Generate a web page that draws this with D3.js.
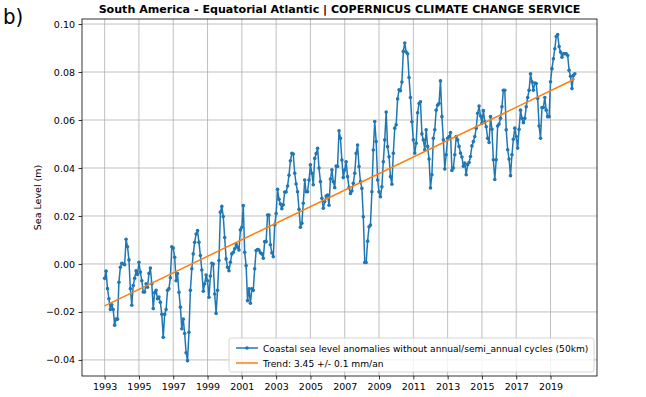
<!DOCTYPE html>
<html>
<head>
<meta charset="utf-8">
<script src="https://cdn.jsdelivr.net/npm/d3@7.9.0/dist/d3.min.js"></script>
<style>
  html, body { margin: 0; padding: 0; background: #fff; }
  svg { display: block; font-family: "DejaVu Sans", sans-serif; }
</style>
</head>
<body>
<svg id="chart" width="646" height="397"></svg>
<script>
// ---- data: monthly coastal sea level anomalies (m) ----
const startYear = 1993;
const sla1993to1999 = [
  -0.0060, -0.0030, -0.0103, -0.0145, -0.0190, -0.0170, -0.0190, -0.0255, -0.0230, -0.0230, -0.0076, -0.0014,
   0.0003,  0.0000, -0.0003,  0.0103,  0.0072,  0.0017, -0.0103, -0.0172, -0.0090, -0.0060, -0.0028, -0.0044,
   0.0007, -0.0034, -0.0070, -0.0117, -0.0117, -0.0083, -0.0097, -0.0040, -0.0017, -0.0083, -0.0186, -0.0120,
  -0.0110, -0.0145, -0.0138, -0.0160, -0.0210, -0.0306, -0.0210, -0.0190, -0.0110, -0.0103, -0.0058,  0.0072,
   0.0066,  0.0028, -0.0070, -0.0040, -0.0118, -0.0180, -0.0270, -0.0230, -0.0290, -0.0370, -0.0403, -0.0285,
  -0.0110, -0.0020,  0.0042,  0.0090,  0.0125,  0.0139,  0.0090,  0.0035, -0.0025, -0.0114, -0.0083, -0.0046,
  -0.0070, -0.0139, -0.0050,  0.0003,  0.0000, -0.0125, -0.0206, -0.0110,  0.0014,  0.0216,  0.0240,  0.0198
];
const sla2000to2006 = [
   0.0110,  0.0021, -0.0014, -0.0028,  0.0007,  0.0042,  0.0049,  0.0063,  0.0083,  0.0070,  0.0058,  0.0142,
   0.0153,  0.0243,  0.0049, -0.0007, -0.0153, -0.0104, -0.0164, -0.0104, -0.0110, -0.0020,  0.0056,  0.0060,
   0.0058,  0.0047,  0.0042,  0.0024,  0.0093,  0.0093,  0.0204,  0.0204,  0.0080,  0.0047,  0.0030,  0.0163,
   0.0210,  0.0311,  0.0270,  0.0250,  0.0230,  0.0247,  0.0300,  0.0300,  0.0325,  0.0370,  0.0430,  0.0461,
   0.0458,  0.0378,  0.0333,  0.0301,  0.0228,  0.0153,  0.0170,  0.0253,  0.0350,  0.0301,  0.0301,  0.0350,
   0.0413,  0.0378,  0.0330,  0.0440,  0.0460,  0.0482,  0.0400,  0.0343,  0.0274,  0.0232,  0.0260,  0.0283,
   0.0287,  0.0245,  0.0354,  0.0392,  0.0343,  0.0318,  0.0408,  0.0406,  0.0555,  0.0524,  0.0433,  0.0360
];
const sla2007to2013 = [
   0.0392,  0.0426,  0.0364,  0.0318,  0.0294,  0.0304,  0.0336,  0.0378,  0.0461,  0.0496,  0.0406,  0.0343,
   0.0315,  0.0197,  0.0006,  0.0006,  0.0095,  0.0155,  0.0162,  0.0301,  0.0475,  0.0594,  0.0510,  0.0350,
   0.0301,  0.0280,  0.0322,  0.0426,  0.0517,  0.0633,  0.0489,  0.0447,  0.0364,  0.0332,  0.0461,  0.0566,
   0.0580,  0.0688,  0.0726,  0.0722,  0.0758,  0.0886,  0.0921,  0.0883,  0.0876,  0.0777,  0.0694,  0.0593,
   0.0517,  0.0462,  0.0503,  0.0630,  0.0669,  0.0676,  0.0542,  0.0517,  0.0476,  0.0559,  0.0490,  0.0437,
   0.0317,  0.0372,  0.0524,  0.0559,  0.0641,  0.0662,  0.0669,  0.0763,  0.0614,  0.0517,  0.0396,  0.0455,
   0.0524,  0.0531,  0.0548,  0.0390,  0.0400,  0.0455,  0.0531,  0.0517,  0.0490,  0.0462,  0.0446,  0.0407
];
const sla2014to2020 = [
   0.0421,  0.0372,  0.0414,  0.0423,  0.0448,  0.0492,  0.0510,  0.0531,  0.0566,  0.0628,  0.0658,  0.0617,
   0.0586,  0.0639,  0.0593,  0.0572,  0.0524,  0.0506,  0.0614,  0.0561,  0.0434,  0.0352,  0.0434,  0.0575,
   0.0583,  0.0607,  0.0655,  0.0724,  0.0724,  0.0559,  0.0476,  0.0437,  0.0368,  0.0455,  0.0520,  0.0566,
   0.0531,  0.0483,  0.0561,  0.0641,  0.0607,  0.0589,  0.0607,  0.0655,  0.0694,  0.0724,  0.0793,  0.0759,
   0.0724,  0.0754,  0.0752,  0.0690,  0.0575,  0.0524,  0.0652,  0.0652,  0.0694,  0.0641,  0.0614,  0.0614,
   0.0759,  0.0814,  0.0855,  0.0897,  0.0948,  0.0956,  0.0906,  0.0883,  0.0862,  0.0876,  0.0876,  0.0876,
   0.0869,  0.0807,  0.0782,  0.0731,  0.0786,  0.0793
];

// trend line: value at start + rate (m per year)
const trendStart = -0.0175;
const trendRate = 0.00345;

const xTicks = [1993, 1995, 1997, 1999, 2001, 2003, 2005, 2007, 2009, 2011, 2013, 2015, 2017, 2019];
const yTicks = [-0.04, -0.02, 0.00, 0.02, 0.04, 0.06, 0.08, 0.10];

const titleText = 'South America - Equatorial Atlantic | COPERNICUS CLIMATE CHANGE SERVICE';
const panelLabel = 'b)';
const yLabel = 'Sea Level (m)';
const legendLabels = [
  'Coastal sea level anomalies without annual/semi_annual cycles (50km)',
  'Trend: 3.45 +/- 0.1 mm/an'
];

// ---- build series ----
const values = [...sla1993to1999, ...sla2000to2006, ...sla2007to2013, ...sla2014to2020];
const series = values.map((v, i) => ({ t: startYear + i / 12, v }));
const tEnd = series[series.length - 1].t;
const trend = [startYear, tEnd].map(t => ({ t, v: trendStart + trendRate * (t - startYear) }));

// ---- layout ----
const plot = { left: 82, right: 597, top: 19, bottom: 376 };
const blue = '#1f77b4', orange = '#ff7f0e', gridCol = '#b0b0b0';

const svg = d3.select('#chart');

const x = d3.scaleLinear().domain([1991.68, 2021.71]).range([plot.left, plot.right]);
const y = d3.scaleLinear().domain([-0.0467, 0.1021]).range([plot.bottom, plot.top]);

// grid
const grid = svg.append('g');
grid.selectAll('line.gx').data(xTicks).join('line')
  .attr('x1', d => x(d)).attr('x2', d => x(d))
  .attr('y1', plot.top).attr('y2', plot.bottom)
  .attr('stroke', gridCol).attr('stroke-width', 0.8);
grid.selectAll('line.gy').data(yTicks).join('line')
  .attr('x1', plot.left).attr('x2', plot.right)
  .attr('y1', d => y(d)).attr('y2', d => y(d))
  .attr('stroke', gridCol).attr('stroke-width', 0.8);

// axes
const fmtY = d => d3.format('.2f')(d).replace('-', '\u2212');
svg.append('g')
  .attr('transform', `translate(0,${plot.bottom})`)
  .call(d3.axisBottom(x).tickValues(xTicks).tickFormat(d3.format('d')).tickSize(3.5).tickPadding(3.5))
  .call(g => g.select('.domain').remove());
svg.append('g')
  .attr('transform', `translate(${plot.left},0)`)
  .call(d3.axisLeft(y).tickValues(yTicks).tickFormat(fmtY).tickSize(3.5).tickPadding(3.5))
  .call(g => g.select('.domain').remove());
svg.selectAll('.tick text').attr('font-size', 9.5).attr('font-family', 'DejaVu Sans').attr('fill', '#000');
svg.selectAll('.tick line').attr('stroke', '#000').attr('stroke-width', 0.8);

// series
const line = d3.line().x(d => x(d.t)).y(d => y(d.v));
svg.append('path').datum(series)
  .attr('d', line).attr('fill', 'none')
  .attr('stroke', blue).attr('stroke-width', 1.5).attr('stroke-linejoin', 'round');
svg.append('g').selectAll('circle').data(series).join('circle')
  .attr('cx', d => x(d.t)).attr('cy', d => y(d.v)).attr('r', 1.8)
  .attr('fill', blue);

svg.append('path').datum(trend)
  .attr('d', line).attr('fill', 'none')
  .attr('stroke', orange).attr('stroke-width', 1.5);

// frame
svg.append('rect')
  .attr('x', plot.left).attr('y', plot.top)
  .attr('width', plot.right - plot.left).attr('height', plot.bottom - plot.top)
  .attr('fill', 'none').attr('stroke', '#000').attr('stroke-width', 0.8);

// fit text to a target width
function fitWidth(sel, target) {
  const w = sel.node().getComputedTextLength();
  const fs = parseFloat(sel.attr('font-size'));
  sel.attr('font-size', fs * target / w);
}

// title
const title = svg.append('text')
  .attr('x', (plot.left + plot.right) / 2).attr('y', 13)
  .attr('text-anchor', 'middle').attr('font-weight', 'bold')
  .attr('font-size', 12).text(titleText);
fitWidth(title, 482);

svg.append('text')
  .attr('x', 3).attr('y', 24)
  .attr('font-family', '"DejaVu Sans Condensed", "DejaVu Sans", sans-serif')
  .attr('font-size', 22).text(panelLabel);

svg.append('text')
  .attr('transform', `translate(41,${(plot.top + plot.bottom) / 2}) rotate(-90)`)
  .attr('text-anchor', 'middle').attr('font-size', 9.5).text(yLabel);

// legend
const lg = { x: 229, y: 338, w: 365, h: 34 };
svg.append('rect')
  .attr('x', lg.x).attr('y', lg.y).attr('width', lg.w).attr('height', lg.h)
  .attr('rx', 2.5).attr('fill', '#fff').attr('fill-opacity', 0.8)
  .attr('stroke', '#cccccc').attr('stroke-width', 0.8);
const rows = [lg.y + 10, lg.y + 25];
svg.append('line').attr('x1', lg.x + 7).attr('x2', lg.x + 29)
  .attr('y1', rows[0]).attr('y2', rows[0]).attr('stroke', blue).attr('stroke-width', 1.5);
svg.append('circle').attr('cx', lg.x + 18).attr('cy', rows[0]).attr('r', 1.8).attr('fill', blue);
svg.append('line').attr('x1', lg.x + 7).attr('x2', lg.x + 29)
  .attr('y1', rows[1]).attr('y2', rows[1]).attr('stroke', orange).attr('stroke-width', 1.5);
const l1 = svg.append('text').attr('x', lg.x + 34).attr('y', rows[0] + 3.5)
  .attr('font-size', 9.5).text(legendLabels[0]);
fitWidth(l1, 326);
svg.append('text').attr('x', lg.x + 34).attr('y', rows[1] + 3.5)
  .attr('font-size', l1.attr('font-size')).text(legendLabels[1]);
</script>
</body>
</html>
